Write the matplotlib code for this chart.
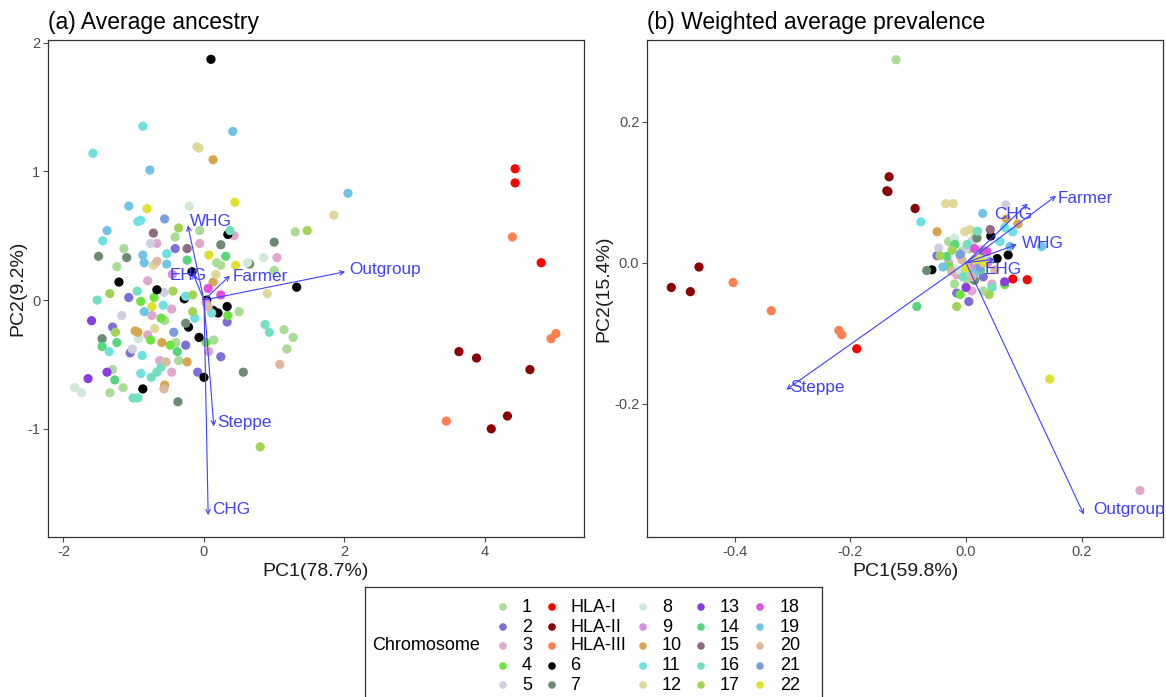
import numpy as np
import matplotlib
matplotlib.use("Agg")
import matplotlib.pyplot as plt

plt.rcParams['font.family'] = ['Liberation Sans', 'DejaVu Sans']
plt.rcParams['axes.unicode_minus'] = False

# chromosome groups, in legend order
groups = ["1", "2", "3", "4", "5", "HLA-I", "HLA-II", "HLA-III", "6", "7", "8", "9",
          "10", "11", "12", "13", "14", "15", "16", "17", "18", "19", "20", "21", "22"]
colors = ["#a8dc97", "#7e6fd6", "#e0a8cc", "#6de33f", "#cfcde0", "#ff0000", "#8b0000",
          "#ff7f50", "#000000", "#6b8b73", "#cfe8d8", "#d68fe0", "#d9a650", "#6de0e0",
          "#e0d89a", "#8b3de0", "#57d67e", "#8f6a80", "#72e0c0", "#a0d455", "#e052e0",
          "#72c4e6", "#dcb8a0", "#7a9ee0", "#e0e033"]

# (a) average ancestry, PC scores per chromosome group
a_pc1 = {
    "1": [-0.06, 1.30, -0.41, -1.14, -1.24, 0.18, 0.24, 1.00, 0.50, -0.56, 1.14, 1.27, 1.18, -0.40, 0.14, -0.36, -1.30, -1.34, -1.15],
    "2": [-0.41, -1.07, 0.33, -1.30, -0.26, -1.05, 0.24, -0.09],
    "3": [0.43, -0.67, -0.06, 1.04, -0.80, -0.46, -0.74, -0.80, -0.63, 0.07, -0.46],
    "4": [-0.71, -0.90, 0.34, -0.61, -0.76, -0.48, 0.03],
    "5": [-0.76, -0.57, -1.17, -1.02],
    "HLA-I": [4.43, 4.43, 4.80],
    "HLA-II": [3.63, 3.88, 4.64, 4.32, 4.09],
    "HLA-III": [4.39, 5.01, 4.94, 3.45],
    "6": [0.10, 0.34, -0.17, -1.21, 1.32, -0.67, -0.28, 0.04, 0.13, 0.20, 0.33, -0.22, -0.07, 0.00, -0.87],
    "7": [0.24, 1.00, -1.50, -1.10, 0.65, -0.26, 0.56, -1.45, -0.37],
    "8": [-0.21, 0.85, 0.62, -0.93, -1.84, -1.74],
    "9": [0.03, -0.45],
    "10": [0.13, 0.13, -0.98, -0.94, -0.60, -0.24, -0.56],
    "11": [-0.87, -1.58, -0.94, -0.90, -1.44, -0.53, -0.26, -0.58, 0.11, -0.13, -1.35, -0.88, -0.90],
    "12": [-0.10, -0.07, 1.85, -0.72, 0.17, 0.90, -0.70],
    "13": [-1.60, -1.38, -1.65],
    "14": [0.31, -0.24, -1.45, -1.24, -0.38, -1.27],
    "15": [-0.72, -0.24],
    "16": [0.37, -0.95, -1.52, 0.87, 0.93, -0.75, -0.67, -0.61, -1.01, -0.94],
    "17": [1.47, -0.36, -0.44, -1.34, -0.16, -0.16, -1.26, 0.80],
    "18": [0.06, 0.24],
    "19": [0.41, -0.77, 2.05, -1.07, -1.38, -0.87, -0.85, -0.53, -0.85],
    "20": [-0.67, 0.06, 1.08, -0.54, -0.57],
    "21": [-0.56, -0.43],
    "22": [-0.81, 0.44, 0.07, 0.45, -0.74],
}
a_pc2 = {
    "1": [0.54, 0.53, 0.49, 0.40, 0.26, 0.29, 0.27, 0.23, -0.09, -0.16, -0.23, -0.29, -0.38, -0.33, -0.31, -0.47, -0.54, -0.72, -0.68],
    "2": [0.40, 0.02, -0.17, -0.21, -0.35, -0.41, -0.44, -0.56],
    "3": [0.50, 0.44, 0.44, 0.33, 0.15, -0.07, -0.12, -0.27, -0.47, -0.40, -0.56],
    "4": [0.02, -0.01, -0.12, -0.14, -0.31, -0.35, -0.33],
    "5": [0.44, 0.06, -0.12, -0.38],
    "HLA-I": [1.02, 0.91, 0.29],
    "HLA-II": [-0.40, -0.45, -0.54, -0.90, -1.00],
    "HLA-III": [0.49, -0.26, -0.30, -0.94],
    "6": [1.87, 0.51, 0.22, 0.14, 0.10, 0.08, 0.01, 0.00, -0.08, -0.10, -0.05, -0.21, -0.29, -0.60, -0.69],
    "7": [0.43, 0.45, 0.34, 0.33, 0.28, -0.18, -0.56, -0.30, -0.79],
    "8": [0.73, 0.33, 0.29, -0.30, -0.68, -0.72],
    "9": [-0.02, 0.20],
    "10": [1.09, 0.14, -0.24, -0.25, -0.33, -0.48, -0.66],
    "11": [1.35, 1.14, 0.61, 0.62, 0.46, 0.36, 0.03, -0.04, -0.10, -0.14, -0.40, -0.43, -0.57],
    "12": [1.19, 1.18, 0.66, 0.27, 0.20, 0.05, -0.22],
    "13": [-0.16, -0.56, -0.61],
    "14": [0.34, 0.31, -0.36, -0.33, -0.40, -0.62],
    "15": [0.52, 0.40],
    "16": [0.54, 0.07, 0.00, -0.19, -0.25, -0.60, -0.56, -0.52, -0.76, -0.76],
    "17": [0.54, 0.56, 0.07, 0.05, 0.04, -0.09, -0.25, -1.14],
    "18": [0.09, 0.04],
    "19": [1.31, 1.01, 0.83, 0.73, 0.54, 0.35, 0.29, 0.28, -0.09],
    "20": [0.30, -0.05, -0.50, -0.48, -0.69],
    "21": [0.63, -0.25],
    "22": [0.71, 0.76, 0.35, 0.27, -0.05],
}

# (b) weighted average prevalence
b_pc1 = {
    "1": [-0.121, -0.007, 0.002, -0.030, 0.030, -0.020, 0.015],
    "2": [-0.016, 0.030, -0.050, 0.005],
    "3": [0.301, 0.029, -0.016, 0.010, 0.045, -0.030],
    "4": [0.067, -0.030, 0.005, -0.010],
    "5": [0.069, -0.047, 0.010, 0.000],
    "HLA-I": [-0.189, 0.081, 0.106],
    "HLA-II": [-0.133, -0.137, -0.135, -0.462, -0.510, -0.477, -0.088],
    "HLA-III": [-0.403, -0.337, -0.220, -0.215],
    "6": [0.043, 0.073, 0.054, -0.059, 0.020],
    "7": [0.019, -0.068, 0.015, 0.030],
    "8": [-0.014, 0.040, -0.020],
    "9": [0.038, -0.010, 0.010],
    "10": [0.090, -0.050, 0.070],
    "11": [-0.078, 0.081, 0.067, 0.059, 0.000],
    "12": [-0.035, -0.022, -0.002, 0.007, 0.025],
    "13": [0.067, 0.000],
    "14": [-0.085, -0.019, -0.033, 0.025],
    "15": [0.042],
    "16": [0.045, 0.002, 0.020, -0.005],
    "17": [-0.016, -0.024, 0.040, -0.045],
    "18": [0.036, 0.015],
    "19": [0.029, 0.076, -0.040, 0.131, 0.015],
    "20": [-0.007, 0.010, -0.025, 0.050],
    "21": [0.024, -0.010],
    "22": [0.145, 0.016, 0.030, 0.000],
}
b_pc2 = {
    "1": [0.288, 0.016, -0.024, 0.030, -0.040, -0.030, 0.035],
    "2": [-0.043, -0.020, 0.010, -0.055],
    "3": [-0.323, 0.018, -0.017, -0.040, -0.030, 0.000],
    "4": [-0.031, -0.005, 0.020, -0.045],
    "5": [0.082, 0.021, 0.030, 0.020],
    "HLA-I": [-0.122, -0.023, -0.024],
    "HLA-II": [0.122, 0.102, 0.101, -0.006, -0.035, -0.041, 0.077],
    "HLA-III": [-0.028, -0.068, -0.096, -0.102],
    "6": [0.038, 0.011, 0.006, -0.010, 0.000],
    "7": [0.035, -0.011, -0.025, 0.015],
    "8": [-0.010, 0.005, 0.035],
    "9": [0.000, 0.010, -0.005],
    "10": [0.055, 0.044, 0.062],
    "11": [0.058, 0.044, 0.050, 0.030, -0.010],
    "12": [0.084, 0.084, 0.044, 0.047, 0.005],
    "13": [-0.027, -0.035],
    "14": [-0.062, 0.026, 0.009, -0.010],
    "15": [0.047],
    "16": [-0.035, 0.026, 0.045, -0.020],
    "17": [-0.062, 0.018, -0.045, 0.010],
    "18": [0.016, 0.020],
    "19": [0.070, 0.023, -0.006, 0.023, -0.015],
    "20": [0.004, -0.020, -0.012, -0.010],
    "21": [-0.006, 0.012],
    "22": [-0.165, 0.004, 0.000, -0.008],
}

# loading arrows (tip coordinates) and label anchors
arrow_names = ["WHG", "EHG", "Farmer", "Outgroup", "Steppe", "CHG"]
a_load1 = [-0.23, -0.16, 0.37, 2.01, 0.14, 0.06]
a_load2 = [0.58, 0.21, 0.19, 0.22, -0.98, -1.67]
a_lab1 = [-0.20, -0.23, 0.41, 2.07, 0.19, 0.11]
a_lab2 = [0.61, 0.19, 0.18, 0.24, -0.95, -1.63]
a_ha = ["left", "center", "left", "left", "left", "left"]

b_load1 = [0.088, 0.050, 0.156, 0.204, -0.311, 0.107]
b_load2 = [0.026, 0.005, 0.095, -0.357, -0.180, 0.084]
b_lab1 = [0.097, 0.033, 0.159, 0.220, -0.305, 0.081]
b_lab2 = [0.027, -0.010, 0.091, -0.350, -0.177, 0.068]
b_ha = ["left", "left", "left", "left", "left", "center"]

W, H = 1166, 697
fig = plt.figure(figsize=(W / 100, H / 100), dpi=100)

def px_axes(x0, y0, x1, y1):
    return fig.add_axes([x0 / W, 1 - y1 / H, (x1 - x0) / W, (y1 - y0) / H])

arrow_col = "#4040ff"

def panel(ax, pc1, pc2, l1, l2, lb1, lb2, has, title, xlab, ylab, ylab_x):
    for g, c in zip(groups, colors):
        ax.scatter(pc1[g], pc2[g], s=44, color=c, edgecolors="none", zorder=2)
    for i, name in enumerate(arrow_names):
        ax.annotate("", xy=(l1[i], l2[i]), xytext=(0, 0),
                    arrowprops=dict(arrowstyle="->", color=arrow_col, lw=0.8,
                                    mutation_scale=8, shrinkA=0, shrinkB=0), zorder=3)
        ax.text(lb1[i], lb2[i], name, color=arrow_col, fontsize=12.3, ha=has[i],
                va="center", zorder=4)
    ax.set_title(title, loc="left", fontsize=16.5, pad=8, x=0.0)
    ax.set_xlabel(xlab, fontsize=14, color="#1a1a1a", labelpad=3)
    ax.set_ylabel(ylab, fontsize=14, color="#1a1a1a")
    ax.yaxis.set_label_coords(ylab_x, 0.5)
    ax.tick_params(colors="#4d4d4d", labelsize=10.5, length=3.5, width=0.8, pad=2)
    for sp in ax.spines.values():
        sp.set_color("#333333")
        sp.set_linewidth(0.9)

ax1 = px_axes(48, 40, 584, 537)
panel(ax1, a_pc1, a_pc2, a_load1, a_load2, a_lab1, a_lab2, a_ha,
      "(a) Average ancestry", "PC1(78.7%)", "PC2(9.2%)", -0.041)
ax1.set_xlim(-2.22, 5.41)
ax1.set_ylim(-1.84, 2.02)
ax1.set_xticks([-2, 0, 2, 4])
ax1.set_yticks([-1, 0, 1, 2])

ax2 = px_axes(647, 40, 1163, 537)
panel(ax2, b_pc1, b_pc2, b_load1, b_load2, b_lab1, b_lab2, b_ha,
      "(b) Weighted average prevalence", "PC1(59.8%)", "PC2(15.4%)", -0.068)
ax2.set_xlim(-0.552, 0.341)
ax2.set_ylim(-0.389, 0.316)
ax2.set_xticks([-0.4, -0.2, 0.0, 0.2])
ax2.set_yticks([-0.2, 0.0, 0.2])
ax2.xaxis.set_major_formatter(matplotlib.ticker.FormatStrFormatter("%.1f"))
ax2.yaxis.set_major_formatter(matplotlib.ticker.FormatStrFormatter("%.1f"))

# legend box, laid out in pixel coordinates
lg = px_axes(365, 587, 822, 697)
lg.set_xlim(365, 822)
lg.set_ylim(697, 587)
lg.set_xticks([])
lg.set_yticks([])
for sp in lg.spines.values():
    sp.set_color("#333333")
    sp.set_linewidth(0.9)
lg.spines["bottom"].set_visible(False)
lg.text(372, 646, "Chromosome", fontsize=13, va="center", ha="left")
mark_x = [503, 552, 643, 701, 760]
text_x = [522, 570, 662, 720, 780]
row_y = [607, 627, 646, 666, 685]
for i, (g, c) in enumerate(zip(groups, colors)):
    col, row = divmod(i, 5)
    lg.scatter(mark_x[col], row_y[row], s=30, color=c, edgecolors="none")
    lg.text(text_x[col], row_y[row], g, fontsize=13, va="center", ha="left")

fig.savefig("out.png", dpi=100)
